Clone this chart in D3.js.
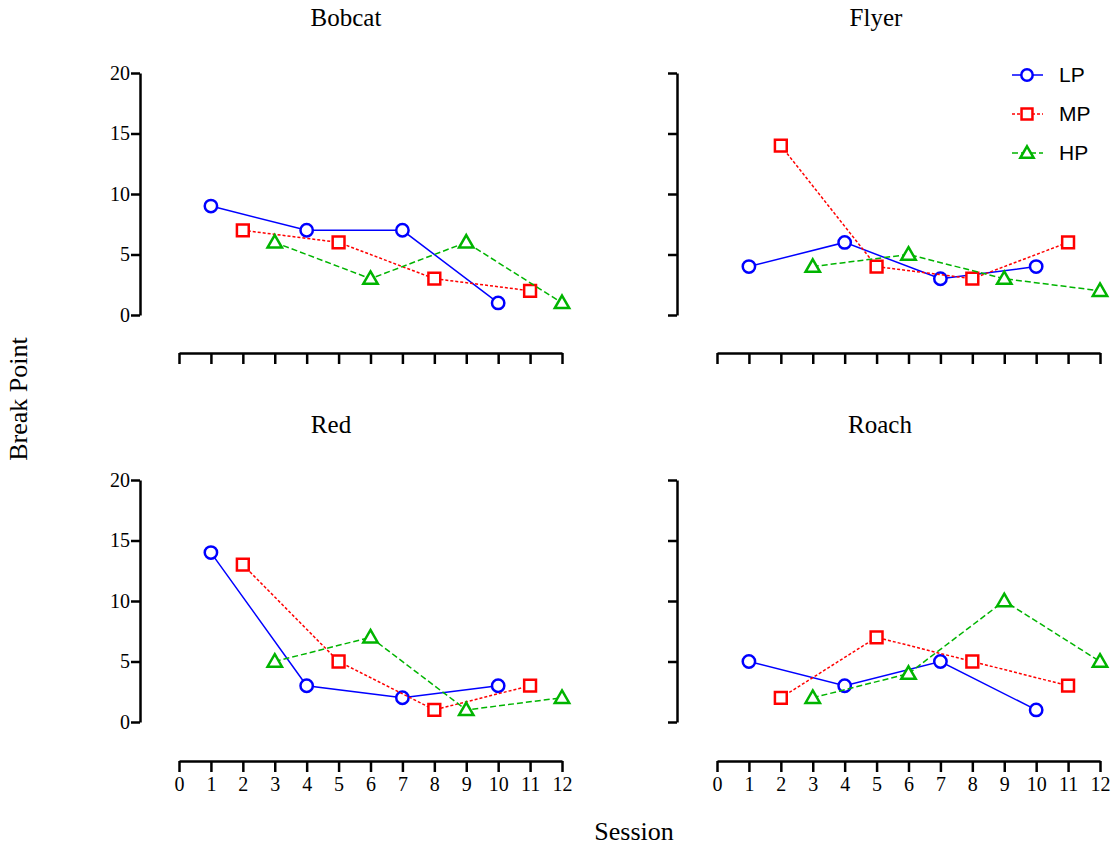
<!DOCTYPE html>
<html><head><meta charset="utf-8">
<script src="https://cdn.jsdelivr.net/npm/d3@7"></script>
<style>body{margin:0;background:#fff}svg{display:block}
.serif{font-family:'Liberation Serif','Times New Roman',Times,serif}
.sans{font-family:'Liberation Sans',Arial,Helvetica,sans-serif}</style>
</head><body><svg id="c" width="1118" height="848"></svg>
<script>
const panels = ["Bobcat", "Flyer", "Red", "Roach"];
const seriesNames = ["LP", "MP", "HP"];
const lpSessions = [1, 4, 7, 10];
const mpSessions = [2, 5, 8, 11];
const hpSessions = [3, 6, 9, 12];
const bobcatLP = [9, 7, 7, 1], bobcatMP = [7, 6, 3, 2], bobcatHP = [6, 3, 6, 1];
const flyerLP = [4, 6, 3, 4], flyerMP = [14, 4, 3, 6], flyerHP = [4, 5, 3, 2];
const redLP = [14, 3, 2, 3], redMP = [13, 5, 1, 3], redHP = [5, 7, 1, 2];
const roachLP = [5, 3, 5, 1], roachMP = [2, 7, 5, 3], roachHP = [2, 4, 10, 5];
const xTicks = [0,1,2,3,4,5,6,7,8,9,10,11,12];
const yTicks = [0, 5, 10, 15, 20];

const panelData = {
  Bobcat: [bobcatLP, bobcatMP, bobcatHP],
  Flyer: [flyerLP, flyerMP, flyerHP],
  Red: [redLP, redMP, redHP],
  Roach: [roachLP, roachMP, roachHP]
};
const sessions = [lpSessions, mpSessions, hpSessions];
const colors = ["#0000ff", "#ff0000", "#00b400"];
const dashes = [null, "3,2", "6,3"];
const shapes = [d3.symbolCircle, d3.symbolSquare, d3.symbolTriangle];
const sizes = [120, 140, 90];

const svg = d3.select("#c");
const layout = [
  {x0: 179, x1: 562, yAxisX: 140, yTop: 73, yBot: 315, xAxisY: 353, titleY: 26, titleX: 346, yLabels: true, xLabels: false},
  {x0: 717, x1: 1100, yAxisX: 677, yTop: 73, yBot: 315, xAxisY: 353, titleY: 26, titleX: 876, yLabels: false, xLabels: false},
  {x0: 179, x1: 562, yAxisX: 140, yTop: 480, yBot: 722, xAxisY: 761, titleY: 433, titleX: 331, yLabels: true, xLabels: true},
  {x0: 717, x1: 1100, yAxisX: 677, yTop: 480, yBot: 722, xAxisY: 761, titleY: 433, titleX: 880, yLabels: false, xLabels: true}
];

panels.forEach((name, i) => {
  const L = layout[i];
  const x = d3.scaleLinear().domain([0, 12]).range([L.x0, L.x1]);
  const y = d3.scaleLinear().domain([0, 20]).range([L.yBot, L.yTop]);
  const g = svg.append("g");

  const ya = g.append("g").attr("transform", `translate(${L.yAxisX},0)`)
    .call(d3.axisLeft(y).tickValues(yTicks).tickSize(9).tickSizeOuter(0)
      .tickFormat(L.yLabels ? d3.format("d") : ""));
  ya.attr("font-family", null).attr("font-size", null);
  ya.select(".domain").attr("stroke-width", 2.5);
  ya.selectAll(".tick line").attr("stroke-width", 2.5);
  ya.selectAll("text").attr("class", "serif").style("font-size", "20px").attr("fill", "#000").attr("x", -10);

  const xa = g.append("g").attr("transform", `translate(0,${L.xAxisY})`)
    .call(d3.axisBottom(x).tickValues(xTicks).tickSize(11).tickSizeOuter(0)
      .tickFormat(L.xLabels ? d3.format("d") : ""));
  xa.attr("font-family", null).attr("font-size", null);
  xa.select(".domain").attr("stroke-width", 2.5);
  xa.selectAll(".tick line").attr("stroke-width", 2.5);
  xa.selectAll("text").attr("class", "serif").style("font-size", "20px").attr("fill", "#000").attr("y", 16);

  g.append("text").attr("class", "serif").attr("x", L.titleX).attr("y", L.titleY)
    .attr("text-anchor", "middle").style("font-size", "25px")
    .text(name);

  const vals = panelData[name];
  vals.forEach((v, s) => {
    const pts = sessions[s].map((sx, k) => [sx, v[k]]);
    const line = d3.line().x(d => x(d[0])).y(d => y(d[1]));
    g.append("path").attr("d", line(pts)).attr("fill", "none")
      .attr("stroke", colors[s]).attr("stroke-width", 1.5)
      .attr("stroke-dasharray", dashes[s]);
    g.selectAll(null).data(pts).enter().append("path")
      .attr("transform", d => `translate(${x(d[0])},${y(d[1]) + (s === 2 ? 1 : 0)})`)
      .attr("d", d3.symbol().type(shapes[s]).size(sizes[s]))
      .attr("fill", "#fff").attr("stroke", colors[s]).attr("stroke-width", 2.5);
  });
});

seriesNames.forEach((n, s) => {
  const ly = 75 + s * 39;
  const lg = svg.append("g");
  lg.append("line").attr("x1", 1012).attr("x2", 1043).attr("y1", ly).attr("y2", ly)
    .attr("stroke", colors[s]).attr("stroke-width", 1.5).attr("stroke-dasharray", dashes[s]);
  lg.append("path").attr("transform", `translate(1027,${ly + (s === 2 ? 1 : 0)})`)
    .attr("d", d3.symbol().type(shapes[s]).size(sizes[s] * 0.85))
    .attr("fill", "#fff").attr("stroke", colors[s]).attr("stroke-width", 2.5);
  lg.append("text").attr("class", "sans").attr("x", 1059).attr("y", ly + 7)
    .style("font-size", "21px").text(n);
});

svg.append("text").attr("class", "serif").attr("transform", "translate(27,399) rotate(-90)").attr("text-anchor", "middle")
  .style("font-size", "26px").text("Break Point");
svg.append("text").attr("class", "serif").attr("x", 634).attr("y", 840).attr("text-anchor", "middle")
  .style("font-size", "26px").text("Session");
</script></body></html>
